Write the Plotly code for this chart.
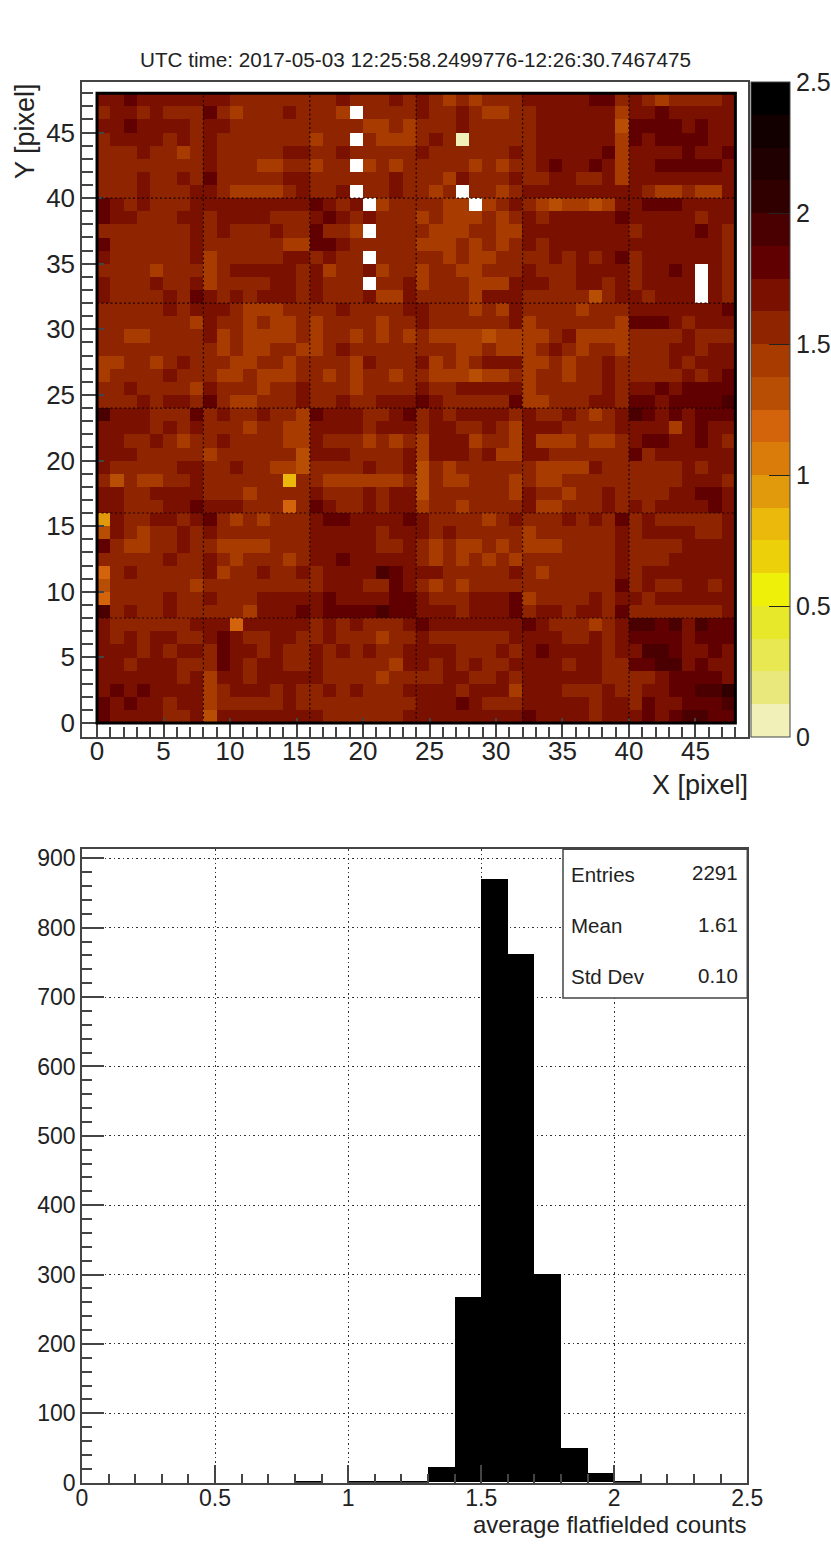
import plotly.graph_objects as go

W, H = 831, 1558

# Heat map: colour level read for each pixel. Rows run from Y=47 (top) to Y=0 (bottom).
# Codes: 0 6 7 8 9 = palette level, O o . d D X Y = levels 10..16, W = no data (white)
LEFT_COLS = [
"d d D d d d d d d d . . . . . . . . d . . . d .",
". d d . d . . . D . o . . . d . . . o W . . . .",
"d d D d d d d . d d . . . . . . . . . . o o . o",
". d d d d . d . d . . . . . . . o . . W . o o o",
". . . d . . o . d . . . . . d d . . d . . . . .",
". . . . . . . . d . . . o o . . o . . W o . o .",
". . . d . . d . D . . . . . d d . . . . . . d .",
". . . d . . . d d . o o o o . d . . d W . . d .",
"D d . d . . . d d d d d d d d d D d . d W o . .",
"D d d . . . d d . d d d d . . . d D d . d . . .",
". . . . . . . d . d . . . d . . D . . o W . . .",
"D . . . . . . d . . . . . . o o D D d . . . . .",
"d . . . . . . d o . . . . . d d . d . . W . . .",
". . . . o . . . o . d d d d d . d o . . d o . .",
"d . . . d . . d o . . . . d d . d . . . W . . d",
"d . . . . d . D d . d . d d d . d . . . d o o d",
". . . . . d . d d d . o o o . . . . d . . . . d",
". . . . . . . o d . . o . o o . o . . . . o . .",
". . o o . . . . d o . o o o o . o . . o . o . o",
". . . . . . . . . o . o o . . o o . d . . . . .",
"o o . . o . d . . . o o . . o . . . . o d . . .",
"o . . . . d . . . o o . o o o . . o . o . . o .",
". . d . . . . o d . . . o . . d . . . o . . . .",
". . . d . d d . D . o o . . . d . . d . . d d d",
"X d d d . . . D . d . . d . . o D d d d . . d D",
"d d d d . d . d . . . o . . o o d d d d . d d d",
"d d . . d . o . . d . . . . o o d . . . o . o .",
"d d d . . . . . o . . . . . . O d d d . . . . d",
"d . . . . . d d . . d . . o o O . . . . d . . d",
". O . o o . . d . . . . . . 6 . . o o o o o o .",
"d d . . d d d d . . . o . . . . d . . . d . d d",
"d d . . . d d D d d d . . . 9 . D d . . d . d d",
"7 d . . d d . d D . o . o . . . d D D d d d d D",
"O d . o . . d . d . . . . . . . d d d d d . d d",
"D . o o . . d . . o o o o . . . d d d d d . . d",
". . . . . d . . d . o . . . o . d d D d d d d d",
"9 . d . . . . . d o . . d . . d . d d d d X D d",
"O . . . . . . o . . . . . . . . . d d d . . D d",
"9 . . . . d . . d . . . d d d d d D d d d d D D",
"X . d . . d . . . . . o d d d D d D D D D X D D",
"d . . . . . . d d d 9 d d d d d . d . d . . . d",
"d . d . d d . . d D d . . d d . . d . . . o . .",
"d d d . d . d d . D d d . d . . d . d . d . . d",
"d d . d d d . . . D d . d d . . d . . . . . o d",
"d d d d d d . d o d d . d d d d d . . . . o . .",
"d D d D d d d d o . d d d . d . . d . d . . . d",
"D d D d d . d d o . . . . . d . . . . . . . . .",
"D d d d d . . d O d d d d d d d d . . . . . . d",
]
RIGHT_COLS = [
"d . o . o . . . d d d d d D D . d . o . . . . d",
"d . . d . o o . . d d d d d d o d d D d d d d d",
". . . d . . . . . d d d d d d O D D D D d D d d",
". d . 0 . . . . . d d d d d d o D d D D D D d d",
"d . . . . . . d . d d d d d D o d d d d D d d D",
". . . . o . o . . d D d d D d o d d D D D D D d",
". . o d . . . d . . d d . . d o d d d d d d d d",
". o . W . . o . d d d d d d d d d . o o . o o d",
". . o o W o . d . o O o o O o d d D D D d d d d",
"o . o o o . o . d . d d d d d D d d d d d . d d",
". o o o . . o o d d d d d d d d . d d d d D d .",
"o o o . o . o . d . d d d d d d d d d d d d d .",
". . o . o o . . . . d . d . d D . d d d d d d .",
"o . . o o . . . d . . . d d d d . d d D d W d .",
"o . . . o o o d d d . . d d . d . d d d d W d .",
". . . . o d d d . . . . . O . d d . d d d W d .",
"d . . . o . o d . . . . o . . . d d d d d d d D",
"d . . . . . . d o . . . . . . o D D D d . d d d",
". o o o o O o o o o . d o o o o . . . . d . . .",
". . . o o . o o o . d . o . . o . . . d d . d d",
"d o . o . d d d o o . o . . d . . . . d . d d d",
". o o o O o o . o . . o . . d . . . . . d . d D",
"d . . d d d d d o . . . . . d . d d D d D D D D",
"D d . . . . . D o o . . . d d . D D d D D D D X",
". d . d d d d . d . . d . o . d X D d D d D D D",
". d d . . d . o d d d . . . . d d d d o d D d d",
"o d d d o . . o d o o o . o o . d D D d d D d .",
"o d d d . d o o d d . . . . . . D . d d d d d d",
"O . o . . . . . . o o o o d . . . . . . d . d d",
"O . o o . . . o . o o . . . . . . . . . d d d .",
"O . . . . . . o d . . o . . d . . . . d d D D d",
"o . . o . . . . d o o . . . d . d . d d d d D d",
"d . . . . o . d . . . d . d . D . d . . . . . d",
"d . d . . . . . o . . . . . . d . d d d d . . d",
". o . o o . o . o o o . . . . d . . . . d d d d",
". o . o . o . o . . . . . . . d . . . d d d d d",
"d d . . . . . d . o . . . . . d . d d d d d d d",
". o . o . . . . . . . . . . . D . d . . d d . d",
"d . . . d d d D o . . . . d . d d . d d d d d d",
"d d d . d d d D . d d . d d . D . . . . . . . d",
"D d d d d d d d D d . . . o . d X X D X d X D D",
"d . . . . . . d d d d . . d . d D D D D d D D D",
"d d d . . . d . d D d d d d . d d X X D d d D d",
"d . d . d . . d d d d . d d . . D D X X d D d d",
". . d d . . d . d d d d d d . . . . d D D D D d",
"d d d . d d d o d d d . . . d . . d d D D X X Y",
"d d d D d . . . d d d d d . d d . D d d D D D X",
"d d d d d d d d D d d d d . d d d D d D X X D D",
]

LEVEL_COLORS = [
    "#f0f0b8", "#e8e87c", "#e8e852", "#e8e82a", "#eef00a",
    "#ecd00a", "#ebb80c", "#e09a0c", "#d97c0a", "#d4640c",
    "#b84e04", "#a83c00", "#8f2500", "#7a1100", "#600000",
    "#4a0000", "#300000", "#200000", "#120000", "#000000",
]
CODE_LEVEL = {"0": 0, "6": 6, "7": 7, "8": 8, "9": 9, "O": 10, "o": 11,
              ".": 12, "d": 13, "D": 14, "X": 15, "Y": 16}
HEAT_GRID = [8, 16, 24, 32, 40]
HEAT_MINOR_TICKS = list(range(49))
CBAR_TICKS = [0, 0.5, 1, 1.5, 2, 2.5]

# Histogram
HIST_CENTERS = [0.85, 1.05, 1.15, 1.25, 1.35, 1.45, 1.55, 1.65, 1.75, 1.85, 1.95, 2.05]
HIST_COUNTS = [2, 2, 2, 2, 22, 267, 870, 762, 300, 50, 13, 2]
STATS = [("Entries", "2291"), ("Mean", "1.61"), ("Std Dev", "0.10")]
TITLE = "UTC time: 2017-05-03 12:25:58.2499776-12:26:30.7467475"

FONT = "Liberation Sans"
TEXT = "#222222"
FRAME = "#444444"

def px(x):
    return x / W

def py(y):
    return 1 - y / H

z = []
for left, right in zip(reversed(LEFT_COLS), reversed(RIGHT_COLS)):
    tokens = left.split() + right.split()
    assert len(tokens) == 48
    z.append([None if t == "W" else (CODE_LEVEL[t] + 0.5) * 0.125 for t in tokens])

n = len(LEVEL_COLORS)
cs = []
for i, c in enumerate(LEVEL_COLORS):
    cs += [[i / n, c], [(i + 1) / n, c]]

fig = go.Figure()
fig.add_trace(go.Heatmap(
    z=z, x=[i + 0.5 for i in range(48)], y=[i + 0.5 for i in range(48)],
    zmin=0, zmax=2.5, colorscale=cs, hoverongaps=False, xaxis="x", yaxis="y",
    colorbar=dict(
        x=px(751), xanchor="left", xpad=0, ypad=0,
        y=py(737), yanchor="bottom", len=655 / H, lenmode="fraction",
        thickness=39, thicknessmode="pixels",
        outlinecolor=FRAME, outlinewidth=1,
        tickmode="array", tickvals=CBAR_TICKS, ticktext=[str(v) for v in CBAR_TICKS],
        ticks="inside", ticklen=21, tickcolor="#222222", tickwidth=1,
        tickfont=dict(family=FONT, size=25, color=TEXT),
    ),
))
fig.add_trace(go.Bar(
    x=HIST_CENTERS, y=HIST_COUNTS, width=0.1, marker=dict(color="black", line=dict(width=0)),
    xaxis="x2", yaxis="y2", showlegend=False,
))

def axis(domain, rng, anchor, dtick, minor, size, major_len, minor_len, **kw):
    return dict(
        domain=domain, range=rng, anchor=anchor, tick0=0, dtick=dtick,
        ticks="inside", ticklen=major_len, tickwidth=1.5, tickcolor=FRAME,
        minor=dict(ticks="inside", ticklen=minor_len, tickwidth=1.5, tickcolor=FRAME, **minor),
        showline=True, mirror=True, linecolor=FRAME, linewidth=1.5,
        tickfont=dict(family=FONT, size=size, color=TEXT),
        zeroline=False, layer="above traces", automargin=False, **kw,
    )

heat_x = [px(82), px(748)]
heat_y = [py(737), py(82)]
hist_x = [px(82), px(747.3)]
hist_y = [py(1482.7), py(849.3)]

GRID_DASH = "1.5px,3px"
HEAT_MINOR = dict(tickmode="array", tickvals=HEAT_MINOR_TICKS)

fig.update_layout(
    width=W, height=H, margin=dict(l=0, r=0, t=0, b=0, autoexpand=False),
    paper_bgcolor="white", plot_bgcolor="white", bargap=0, showlegend=False,
    xaxis=axis(heat_x, [-1.13, 48.95], "y", 5, HEAT_MINOR, 26, 19, 10, showgrid=False,
               ticklabelstandoff=-10),
    yaxis=axis(heat_y, [-1.07, 48.85], "x", 5, HEAT_MINOR, 26, 22, 11, showgrid=False),
    xaxis2=axis(hist_x, [0, 2.5], "y2", 0.5, dict(dtick=0.1, tick0=0), 23, 18, 9, showgrid=True,
                gridcolor="#333333", griddash=GRID_DASH, gridwidth=1, ticklabelstandoff=-6),
    yaxis2=axis(hist_y, [0, 913], "x2", 100, dict(dtick=20, tick0=0), 23, 22, 10, showgrid=True,
                gridcolor="#333333", griddash=GRID_DASH, gridwidth=1),
)

shapes = []
for g in HEAT_GRID:
    shapes.append(dict(type="line", xref="x", yref="y", x0=g, x1=g, y0=0, y1=48,
                       line=dict(color="#1a0000", width=1.2, dash="2px,2.5px")))
    shapes.append(dict(type="line", xref="x", yref="y", x0=0, x1=48, y0=g, y1=g,
                       line=dict(color="#1a0000", width=1.2, dash="2px,2.5px")))
shapes.append(dict(type="rect", xref="x", yref="y", x0=0, x1=48, y0=0, y1=48,
                   line=dict(color="black", width=3)))
shapes.append(dict(type="rect", xref="paper", yref="paper",
                   x0=px(563), x1=px(747.3), y0=py(998), y1=py(849.3),
                   fillcolor="white", line=dict(color=FRAME, width=1.5)))

ann = []
def label(x, y, text, size, xanchor="center", yanchor="middle", angle=0):
    ann.append(dict(x=px(x), y=py(y), xref="paper", yref="paper", text=text, showarrow=False,
                    xanchor=xanchor, yanchor=yanchor, textangle=angle,
                    font=dict(family=FONT, size=size, color=TEXT)))

label(415, 60, TITLE, 20.7)
label(750, 785, "X [pixel]", 27, xanchor="right")
label(25, 131, "Y [pixel]", 27, angle=-90)
label(749, 1524, "average flatfielded counts", 24, xanchor="right")
for (name, value), y in zip(STATS, [874, 925, 976]):
    label(569, y, name, 20.5, xanchor="left")
    label(740, y - 1, value, 20.5, xanchor="right")

fig.update_layout(shapes=shapes, annotations=ann)

fig.write_html(
    "out.html",
    config={"displayModeBar": False},
    post_script="document.body.style.margin='0';document.documentElement.style.overflow='hidden';",
)
